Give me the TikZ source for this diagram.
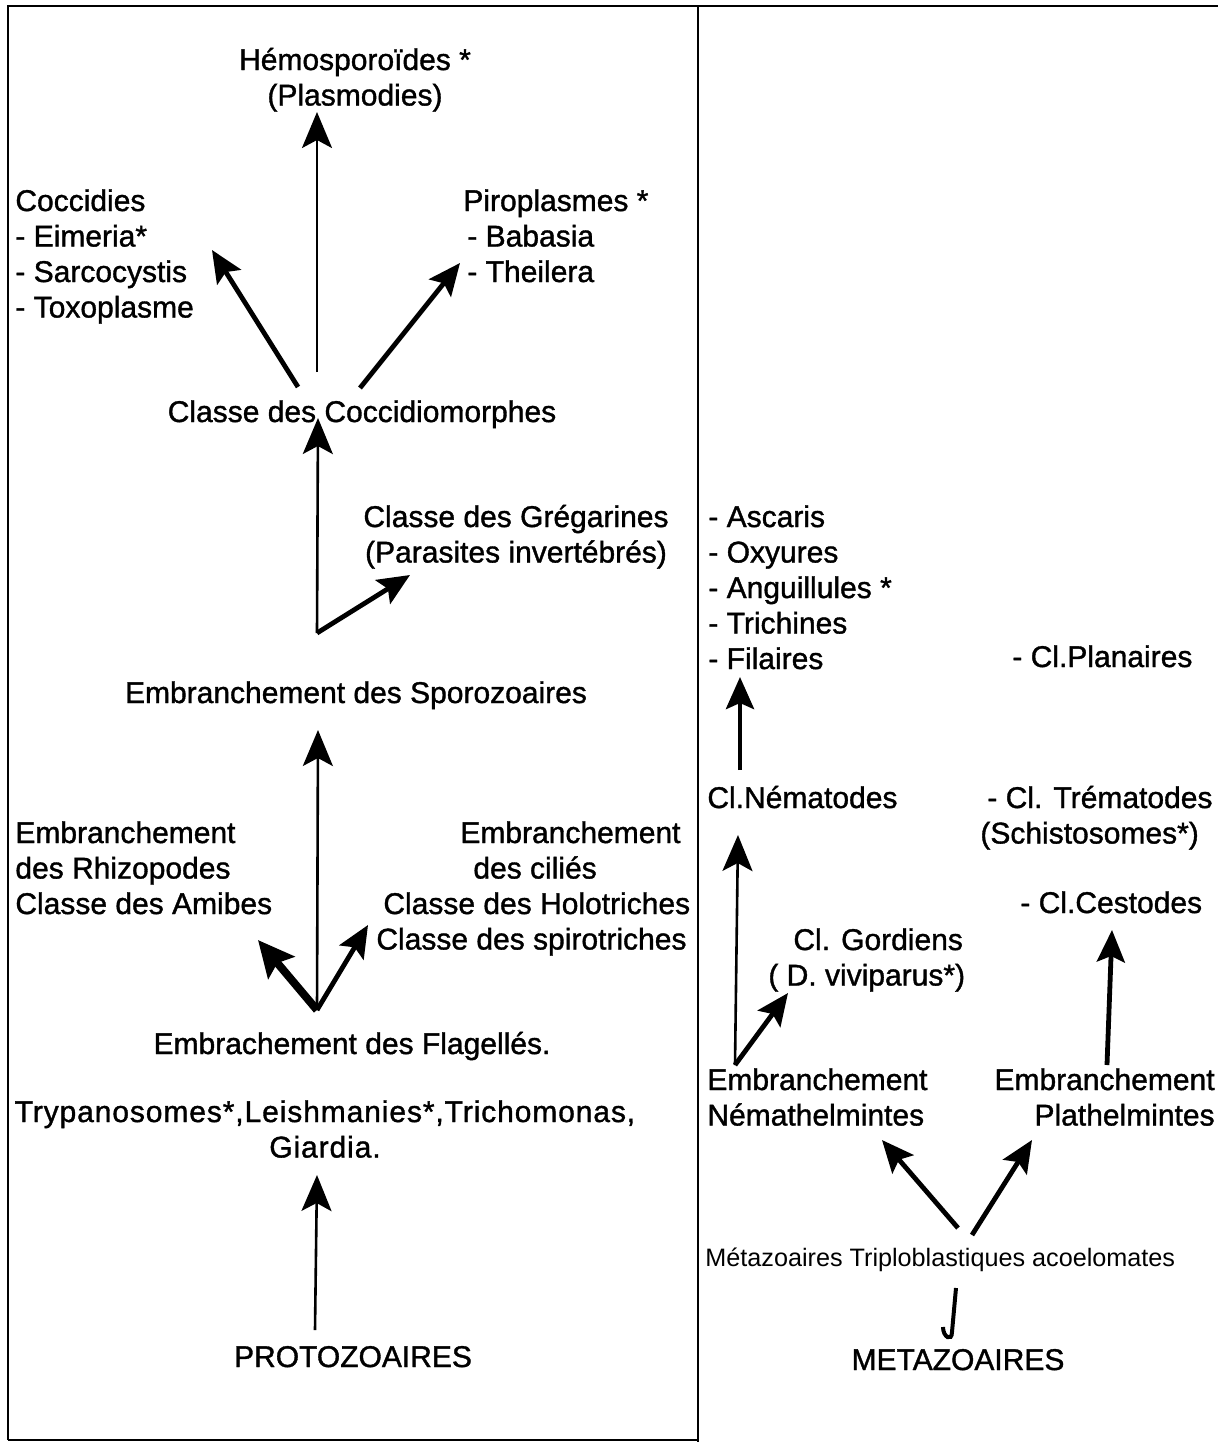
\documentclass[tikz,border=0pt]{standalone}
\usepackage{fontspec}
\setmainfont[AutoFakeBold=1.2]{Liberation Sans}
\usetikzlibrary{arrows.meta,calc}
\begin{document}
\begin{tikzpicture}[x=0.5pt,y=-0.5pt,
  lbl/.style={inner sep=0pt, font=\fontsize{15}{17.75}\selectfont\bfseries},
  thinlbl/.style={inner sep=0pt, font=\fontsize{12.6}{15}\selectfont},
  frame/.style={line width=1.1pt},
  arr/.style={line width=1.3pt, -{Stealth[length=18pt,width=15pt,inset=4pt]}},
  thickarr/.style={line width=2.4pt, -{Stealth[length=16pt,width=14pt,inset=3pt]}},
  heavyarr/.style={line width=4pt, -{Stealth[length=18pt,width=17pt,inset=3pt]}}]
\useasboundingbox (0,0) rectangle (1218,1442);
\fill[white] (0,0) rectangle (1218,1442);
% frame
\draw[frame] (8,1440) -- (8,6) -- (1218,6);
\draw[frame] (698,6) -- (698,1442);
\draw[frame] (8,1440) -- (698,1440);

% ---------- left panel ----------
\node[lbl,anchor=base,align=center] (hemo) at (355,105.5) {Hémosporoïdes *\\(Plasmodies)};
\node[lbl,anchor=base west,align=left] (cocc) at (15,317.5) {Coccidies\\- Eimeria*\\- Sarcocystis\\- Toxoplasme};
\node[lbl,anchor=base west,align=left] (piro) at (463,282) {Piroplasmes *\\\hspace{2pt}- Babasia\\\hspace{2pt}- Theilera};
\node[lbl,anchor=base] (ccm) at (362,422) {Classe des Coccidiomorphes};
\node[lbl,anchor=base,align=center] (greg) at (516,562.5) {Classe des Grégarines\\(Parasites invertébrés)};
\node[lbl,anchor=base] (sporo) at (356,703) {Embranchement des Sporozoaires};
\node[lbl,anchor=base west,align=left] (rhizo) at (15,914) {Embranchement\\des Rhizopodes\\Classe des Amibes};
\node[lbl,anchor=base west,align=left] (cilies) at (376,949.5) {\hspace{42pt}Embranchement\\\hspace{48.5pt}des ciliés\\\hspace{3.5pt}Classe des Holotriches\\Classe des spirotriches};
\node[lbl,anchor=base] (flag) at (352,1054) {Embrachement des Flagellés.};
\node[lbl,anchor=base,align=center] (tryp) at (325,1157.5) {\addfontfeatures{LetterSpace=3}Trypanosomes*,Leishmanies*,Trichomonas,\\\addfontfeatures{LetterSpace=3}Giardia.};
\node[lbl,anchor=base] (proto) at (353,1367) {PROTOZOAIRES};

\draw[arr] ($(ccm.base)+(-45,-50)$) -- ($(hemo.base)+(-38,6.5)$);
\draw[thickarr] ($(ccm.base)+(-64,-35)$) -- ($(cocc.base west)+(197,-67.5)$);
\draw[thickarr] ($(ccm.base)+(-2,-34)$) -- ($(piro.base west)+(-3,-19)$);
\draw[arr] ($(sporo.base)+(-39,-70)$) -- ($(ccm.base)+(-44,-4)$);
\draw[thickarr] ($(sporo.base)+(-39,-70)$) -- ($(greg.base)+(-106,12.5)$);
\draw[arr] ($(flag.base)+(-35,-44)$) -- ($(sporo.base)+(-38,27)$);
\draw[heavyarr] ($(flag.base)+(-35,-44)$) -- ($(rhizo.base west)+(243,26)$);
\draw[thickarr] ($(flag.base)+(-35,-44)$) -- ($(cilies.base west)+(-8,-24.5)$);
\draw[arr] ($(proto.base)+(-38,-37)$) -- ($(tryp.base)+(-8,17.5)$);

% ---------- right panel ----------
\node[lbl,anchor=base west,align=left] (nemlist) at (708,669) {- Ascaris\\- Oxyures\\- Anguillules *\\- Trichines\\- Filaires};
\node[lbl,anchor=base west] (plan) at (1012,667) {- Cl.Planaires};
\node[lbl,anchor=base west] (nemat) at (707,808) {Cl.Nématodes};
\node[lbl,anchor=base west,align=left] (trem) at (980,843.5) {\hspace{3.5pt}- Cl. Trématodes\\(Schistosomes*)};
\node[lbl,anchor=base west] (cest) at (1020,913) {- Cl.Cestodes};
\node[lbl,anchor=base west,align=left] (gord) at (768,985.5) {\hspace{12.5pt}Cl. Gordiens\\( D. viviparus*)};
\node[lbl,anchor=base west,align=left] (nemh) at (707,1125.5) {Embranchement\\Némathelmintes};
\node[lbl,anchor=base east,align=right] (plath) at (1215,1125.5) {Embranchement\\Plathelmintes};
\node[thinlbl,anchor=base west] (triplo) at (705,1266) {Métazoaires Triploblastiques acoelomates};
\node[lbl,anchor=base] (meta) at (958,1370) {METAZOAIRES};

\draw[thickarr] ($(nemat.base west)+(33,-38)$) -- ($(nemlist.base west)+(32,8)$);
\draw[arr] ($(nemh.base west)+(28,-60.5)$) -- ($(nemat.base west)+(31,27)$);
\draw[thickarr] ($(nemh.base west)+(28,-60.5)$) -- ($(gord.base west)+(20,7.5)$);
\draw[thickarr] ($(plath.base east)+(-108,-60.5)$) -- ($(cest.base west)+(92,17)$);
\draw[thickarr] ($(triplo.base west)+(253,-38)$) -- ($(nemh.base west)+(175,14.5)$);
\draw[thickarr] ($(triplo.base west)+(267,-31)$) -- ($(plath.base east)+(-183,14.5)$);
\draw[line width=2pt] ($(triplo.base west)+(251,22)$) -- ($(meta.base)+(-6,-38)$)
  to[out=-90,in=-90,looseness=2.5] ++(-9,-5);
\end{tikzpicture}
\end{document}
